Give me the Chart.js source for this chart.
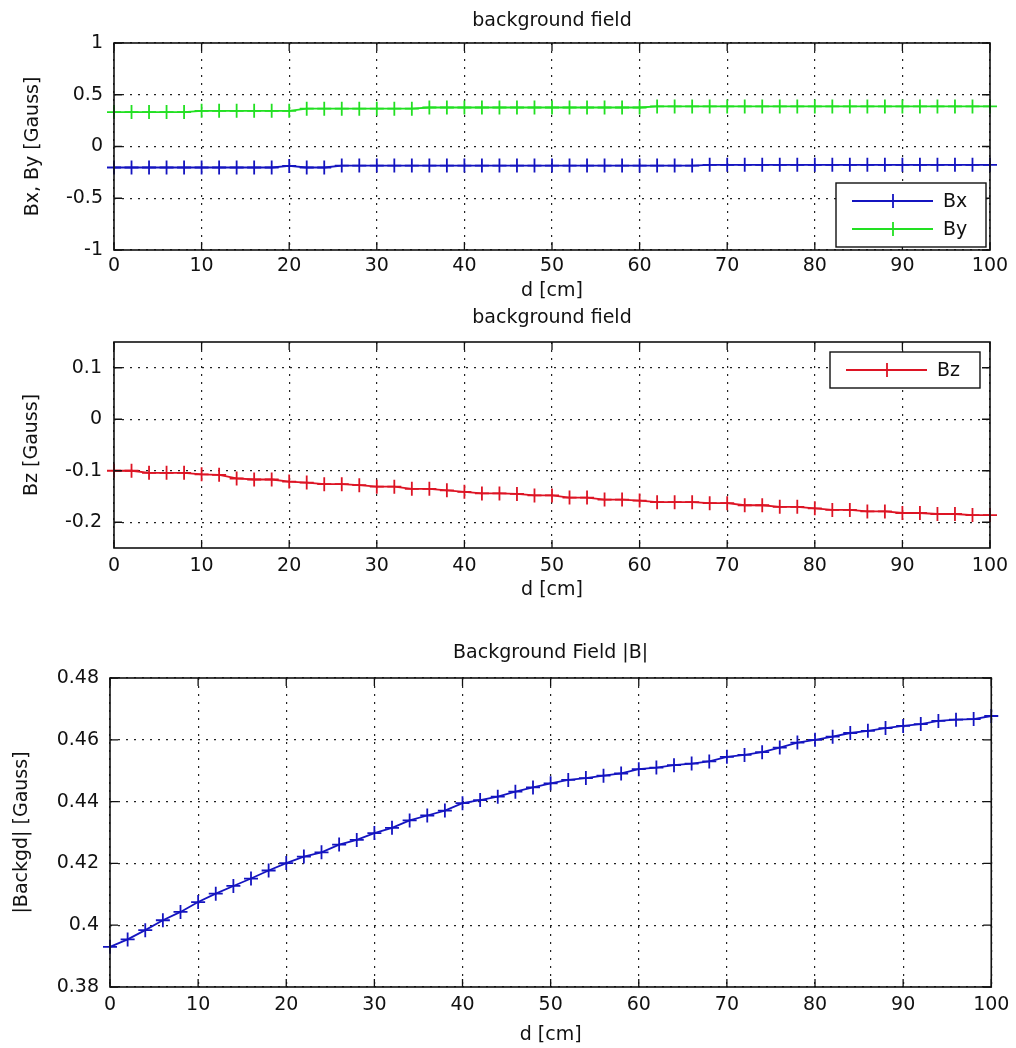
<!DOCTYPE html>
<html>
<head>
<meta charset="utf-8">
<title>background field</title>
<script src="https://cdn.jsdelivr.net/npm/chart.js@4.4.0/dist/chart.umd.min.js"></script>
<style>
  body { margin: 0; background: #fff; }
  #wrap { position: relative; width: 1016px; height: 1048px; overflow: hidden; }
  #wrap canvas { position: absolute; left: 0; }
</style>
</head>
<body>
<div id="wrap">
  <canvas id="chart1" width="1016" height="305" style="top:0px"></canvas>
  <canvas id="chart2" width="1016" height="305" style="top:300px"></canvas>
  <canvas id="chart3" width="1016" height="418" style="top:630px"></canvas>
</div>
<script>
// distance along the track [cm]
let d = [0, 2, 4, 6, 8, 10, 12, 14, 16, 18, 20, 22, 24, 26, 28, 30, 32, 34, 36, 38, 40,
         42, 44, 46, 48, 50, 52, 54, 56, 58, 60, 62, 64, 66, 68, 70, 72, 74, 76, 78, 80,
         82, 84, 86, 88, 90, 92, 94, 96, 98, 100];

// field components [Gauss]
let bx = [-0.203, -0.203, -0.203, -0.203, -0.203, -0.203, -0.203, -0.203, -0.203, -0.203,
          -0.188, -0.203, -0.203,
          -0.184, -0.184, -0.184, -0.184, -0.184, -0.184, -0.184, -0.184, -0.184, -0.184,
          -0.184, -0.184, -0.184, -0.184, -0.184, -0.184, -0.184, -0.184, -0.184, -0.184, -0.184,
          -0.177, -0.177, -0.177, -0.177, -0.177, -0.177, -0.177, -0.177, -0.177,
          -0.177, -0.177, -0.177, -0.177, -0.177, -0.177, -0.177, -0.177];

let by = [0.333, 0.333, 0.333, 0.333, 0.333,
          0.345, 0.345, 0.345, 0.345, 0.345, 0.345,
          0.365, 0.365, 0.365, 0.365, 0.365, 0.365, 0.365,
          0.377, 0.377, 0.377, 0.377, 0.377, 0.377, 0.377, 0.377, 0.377, 0.377, 0.377, 0.377, 0.377,
          0.387, 0.387, 0.387, 0.387, 0.387, 0.387, 0.387, 0.387, 0.387, 0.387,
          0.387, 0.387, 0.387, 0.387, 0.387, 0.387, 0.387, 0.387, 0.387, 0.387];

let bz = [-0.100, -0.100, -0.104, -0.104, -0.104, -0.107, -0.108, -0.115, -0.117, -0.117,
          -0.121, -0.123, -0.126, -0.126, -0.128, -0.131, -0.131, -0.135, -0.135, -0.138,
          -0.141, -0.144, -0.144, -0.145, -0.148, -0.148, -0.152, -0.152, -0.156, -0.156,
          -0.158, -0.161, -0.161, -0.161, -0.163, -0.163, -0.167, -0.167, -0.170, -0.170,
          -0.173, -0.176, -0.176, -0.179, -0.179, -0.182, -0.182, -0.184, -0.184, -0.186, -0.186];

// |B|
let bAbs = [0.3930, 0.3954, 0.3984, 0.4016, 0.4043, 0.4075, 0.4102, 0.4127, 0.4151, 0.4177,
            0.4201, 0.4222, 0.4236, 0.4261, 0.4276, 0.4298, 0.4315, 0.4339, 0.4355, 0.4371,
            0.4395, 0.4405, 0.4416, 0.4432, 0.4446, 0.4459, 0.4470, 0.4476, 0.4484, 0.4491,
            0.4505, 0.4510, 0.4518, 0.4523, 0.4530, 0.4545, 0.4551, 0.4560, 0.4575, 0.4591,
            0.4600, 0.4610, 0.4622, 0.4629, 0.4638, 0.4645, 0.4651, 0.4661, 0.4665, 0.4667, 0.4677];

let xTicks = [0, 10, 20, 30, 40, 50, 60, 70, 80, 90, 100];
let yTicks1 = [-1, -0.5, 0, 0.5, 1];
let yTicks2 = [-0.2, -0.1, 0, 0.1];
let yTicks3 = [0.38, 0.40, 0.42, 0.44, 0.46, 0.48];

Chart.defaults.font.family = "'DejaVu Sans', sans-serif";
Chart.defaults.font.size = 19;
Chart.defaults.color = '#111';

var blue = '#1414c0';
var green = '#22e022';
var red = '#dd1424';

// box, inward ticks and the in-axes legend, the way MATLAB draws them
const axesBox = {
    id: 'axesBox',
    afterDatasetsDraw(chart, args, opts) {
        const ctx = chart.ctx;
        const a = chart.chartArea;
        const xs = chart.scales.x;
        const ys = chart.scales.y;
        ctx.save();
        ctx.strokeStyle = '#111';
        ctx.lineWidth = 1.6;
        ctx.strokeRect(a.left, a.top, a.right - a.left, a.bottom - a.top);

        ctx.lineWidth = 1.3;
        ctx.beginPath();
        for (let t of xs.ticks) {
            let px = xs.getPixelForValue(t.value);
            ctx.moveTo(px, a.bottom); ctx.lineTo(px, a.bottom - 8);
            ctx.moveTo(px, a.top); ctx.lineTo(px, a.top + 8);
        }
        for (let t of ys.ticks) {
            let py = ys.getPixelForValue(t.value);
            ctx.moveTo(a.left, py); ctx.lineTo(a.left + 8, py);
            ctx.moveTo(a.right, py); ctx.lineTo(a.right - 8, py);
        }
        ctx.stroke();

        if (opts.legend) {
            let sets = chart.data.datasets;
            let w = 150;
            let h = 8 + 28 * sets.length;
            let left = a.right - opts.legend.right - w;
            let top = opts.legend.corner === 'bottom' ? a.bottom - opts.legend.bottom - h : a.top + opts.legend.top;
            ctx.fillStyle = '#fff';
            ctx.fillRect(left, top, w, h);
            ctx.lineWidth = 1.4;
            ctx.strokeStyle = '#111';
            ctx.strokeRect(left, top, w, h);
            ctx.font = "19px 'DejaVu Sans'";
            ctx.textBaseline = 'middle';
            sets.forEach(function(ds, i) {
                let y = top + 18 + 28 * i;
                ctx.strokeStyle = ds.borderColor;
                ctx.lineWidth = 1.8;
                ctx.beginPath();
                ctx.moveTo(left + 16, y); ctx.lineTo(left + 97, y);
                ctx.moveTo(left + 57, y - 7); ctx.lineTo(left + 57, y + 7);
                ctx.stroke();
                ctx.fillStyle = '#111';
                ctx.fillText(ds.label, left + 107, y + 1);
            });
        }
        ctx.restore();
    }
};

function series(label, values, color) {
    return {
        label: label,
        data: d.map((x, i) => ({ x: x, y: values[i] })),
        borderColor: color,
        backgroundColor: color,
        borderWidth: 1.8,
        pointStyle: 'cross',
        pointRadius: 7,
        pointHoverRadius: 7,
        pointBorderWidth: 1.8,
        tension: 0,
        clip: false
    };
}

function makeChart(id, cfg) {
    return new Chart(document.getElementById(id), {
        type: 'line',
        data: { datasets: cfg.datasets },
        plugins: [axesBox],
        options: {
            responsive: false,
            animation: false,
            events: [],
            layout: { padding: { left: 0, right: cfg.padRight, top: 0, bottom: 0 } },
            plugins: {
                legend: { display: false },
                tooltip: { enabled: false },
                title: {
                    display: true,
                    text: cfg.title,
                    fullSize: false,
                    color: '#111',
                    font: { size: 19, weight: 'normal' },
                    padding: { top: cfg.titleTop, bottom: cfg.titleBottom }
                },
                axesBox: { legend: cfg.legend }
            },
            scales: {
                x: {
                    type: 'linear',
                    min: 0,
                    max: 100,
                    afterBuildTicks: s => { s.ticks = xTicks.map(v => ({ value: v })); },
                    afterFit: s => { s.height = cfg.xHeight; },
                    ticks: { padding: cfg.xTickPad, maxRotation: 0, autoSkip: false },
                    grid: { color: '#222', lineWidth: 1.2, drawTicks: false },
                    border: { display: false, dash: [2, 6] },
                    title: { display: true, text: 'd [cm]', color: '#111', padding: { top: 0, bottom: cfg.xTitlePad } }
                },
                y: {
                    type: 'linear',
                    min: cfg.yMin,
                    max: cfg.yMax,
                    afterBuildTicks: s => { s.ticks = cfg.yTicks.map(v => ({ value: v })); },
                    afterFit: s => { s.width = cfg.yWidth; },
                    ticks: { padding: cfg.yTickPad, autoSkip: false, callback: v => String(+v.toFixed(4)) },
                    grid: { color: '#222', lineWidth: 1.2, drawTicks: false },
                    border: { display: false, dash: [2, 6] },
                    title: { display: true, text: cfg.yTitle, color: '#111', padding: { top: cfg.yTitlePad, bottom: 0 } }
                }
            }
        }
    });
}

makeChart('chart1', {
    datasets: [series('Bx', bx, blue), series('By', by, green)],
    title: 'background field', titleTop: 10.1, titleBottom: 10.1,
    padRight: 26, xHeight: 55, xTickPad: 5, xTitlePad: 2.6,
    yMin: -1, yMax: 1, yTicks: yTicks1, yWidth: 114, yTickPad: 11,
    yTitle: 'Bx, By [Gauss]', yTitlePad: 21.6,
    legend: { corner: 'bottom', right: 4, bottom: 3 }
});

makeChart('chart2', {
    datasets: [series('Bz', bz, red)],
    title: 'background field', titleTop: 7.1, titleBottom: 12.1,
    padRight: 26, xHeight: 57, xTickPad: 6.6, xTitlePad: 3.6,
    yMin: -0.25, yMax: 0.15, yTicks: yTicks2, yWidth: 114, yTickPad: 12,
    yTitle: 'Bz [Gauss]', yTitlePad: 20.6,
    legend: { corner: 'top', right: 10, top: 10 }
});

makeChart('chart3', {
    datasets: [series('|B|', bAbs, blue)],
    title: 'Background Field |B|', titleTop: 12.1, titleBottom: 13.1,
    padRight: 21, xHeight: 61, xTickPad: 6.6, xTitlePad: 1.6,
    yMin: 0.38, yMax: 0.48, yTicks: yTicks3, yWidth: 110, yTickPad: 11,
    yTitle: '|Backgd| [Gauss]', yTitlePad: 10.6,
    legend: null
});
</script>
</body>
</html>
